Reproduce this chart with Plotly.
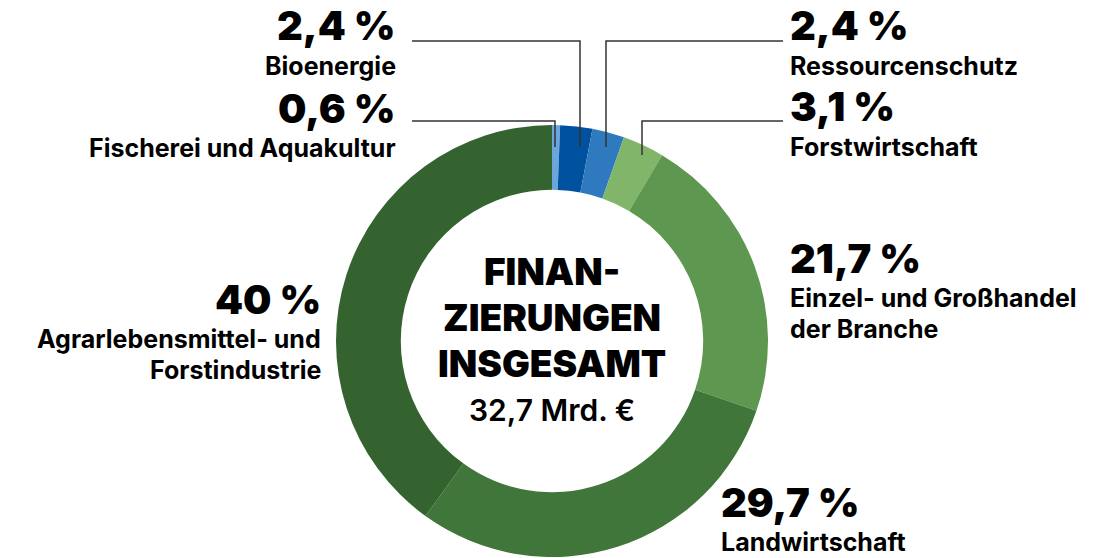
import plotly.graph_objects as go

W, H = 1098, 558

categories = ["Fischerei und Aquakultur", "Bioenergie", "Ressourcenschutz", "Forstwirtschaft",
              "Einzel- und Großhandel der Branche", "Landwirtschaft",
              "Agrarlebensmittel- und Forstindustrie"]
values = [0.6, 2.4, 2.4, 3.1, 21.7, 29.7, 40.0]
colors = ["#6aa6dc", "#00529f", "#2f7abf", "#80b56a", "#5e974f", "#41763a", "#346330"]
name_lines = [["Fischerei und Aquakultur"], ["Bioenergie"], ["Ressourcenschutz"], ["Forstwirtschaft"],
              ["Einzel- und Großhandel", "der Branche"], ["Landwirtschaft"],
              ["Agrarlebensmittel- und", "Forstindustrie"]]
center_lines = ["FINAN-", "ZIERUNGEN", "INSGESAMT"]
total_text = "32,7 Mrd. €"

# label anchor positions (pixel): x, y of percent line centre, alignment
label_pos = [(393, 108, "right"), (393, 26, "right"), (792, 26, "left"), (792, 107, "left"),
             (792, 258, "left"), (723, 502, "left"), (318, 299, "right")]

# leader lines (pixel polylines)
leaders = [[(412, 121), (555, 121), (555, 147)],
           [(412, 41), (580, 41), (580, 147)],
           [(783, 41), (606, 41), (606, 147)],
           [(783, 121), (642, 121), (642, 155)]]

cx, cy, R = 552, 341, 216


def px(x):
    return x / W


def py(y):
    return 1 - y / H


fig = go.Figure(go.Pie(
    labels=categories, values=values, sort=False, direction="clockwise", rotation=0,
    hole=0.70, marker=dict(colors=colors, line=dict(width=0)),
    textinfo="none", hoverinfo="label+value", showlegend=False,
    domain=dict(x=[px(cx - R), px(cx + R)], y=[py(cy + R), py(cy - R)]),
))

FONT = "Inter"
PCT_SIZE = 40
NAME_SIZE = 25
ann = []


def fmt(v):
    s = f"{v:.1f}".replace(".", ",")
    if s.endswith(",0"):
        s = s[:-2]
    return s + " %"


def text(x, y, t, size, weight, anchor):
    ann.append(dict(x=px(x), y=py(y), xref="paper", yref="paper", text=t, showarrow=False,
                    xanchor=anchor, yanchor="middle", borderpad=0, borderwidth=0,
                    font=dict(family=FONT, size=size, color="#000", weight=weight)))


for v, lines, (x, y, al) in zip(values, name_lines, label_pos):
    xa = x + 3 if al == "right" else x - 2
    text(xa, y, fmt(v), PCT_SIZE, 900, al)
    for i, ln in enumerate(lines):
        text(xa, y + 40 + 30.5 * i, ln, NAME_SIZE, 700, al)

for t, y in zip(center_lines, [271, 317, 363]):
    text(cx, y, t, 37, 900, "center")
text(cx, 410, total_text, 30, 600, "center")

shapes = []
for poly in leaders:
    path = "M " + " L ".join(f"{px(a)},{py(b)}" for a, b in poly)
    shapes.append(dict(type="path", xref="paper", yref="paper", path=path,
                       line=dict(color="#333333", width=1.5)))

fig.update_layout(width=W, height=H, margin=dict(l=0, r=0, t=0, b=0),
                  paper_bgcolor="white", plot_bgcolor="white",
                  annotations=ann, shapes=shapes)

fig.write_html("out.html", config={"displayModeBar": False})
